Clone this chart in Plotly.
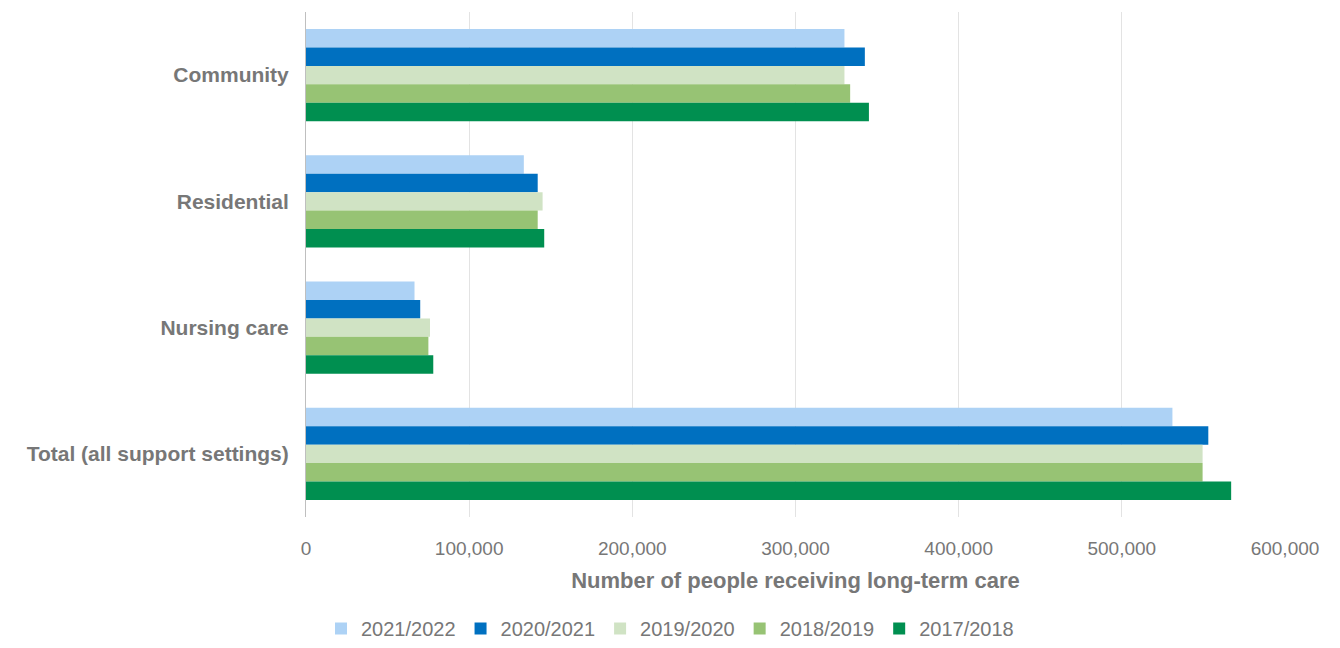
import plotly.graph_objects as go

categories = ["Community", "Residential", "Nursing care", "Total (all support settings)"]
years = ["2021/2022", "2020/2021", "2019/2020", "2018/2019", "2017/2018"]
v_2021_22 = [330000, 133500, 66500, 531000]
v_2020_21 = [342500, 142000, 70000, 553000]
v_2019_20 = [330000, 145000, 76000, 549500]
v_2018_19 = [333500, 142000, 75000, 549500]
v_2017_18 = [345000, 146000, 78000, 567000]
series = [v_2021_22, v_2020_21, v_2019_20, v_2018_19, v_2017_18]
colors = ["#ADD2F5", "#0070C0", "#D0E3C4", "#97C374", "#008F50"]
tick_vals = [0, 100000, 200000, 300000, 400000, 500000, 600000]

font_family = "Liberation Sans, Arial, sans-serif"
grey = "#777777"

fig = go.Figure()
for name, vals, col in zip(years, series, colors):
    fig.add_trace(go.Bar(
        y=categories, x=vals, name=name, orientation="h",
        marker=dict(color=col, line=dict(width=0)),
    ))

fig.update_layout(
    barmode="group",
    bargap=0.27,
    bargroupgap=0,
    width=1340, height=648,
    margin=dict(l=306, r=55, t=12, b=131, autoexpand=False),
    plot_bgcolor="white", paper_bgcolor="white",
    font=dict(family=font_family, color=grey),
    legend=dict(
        orientation="h", xref="container", x=0.5, xanchor="center",
        yref="container", y=0.0, yanchor="bottom",
        font=dict(size=20, color=grey), traceorder="normal",
    ),
    xaxis=dict(
        range=[0, 600000], tickvals=tick_vals, tickformat=",d",
        showgrid=True, gridcolor="#E3E3E3", gridwidth=1,
        zeroline=False, showline=False,
        tickfont=dict(size=19, color=grey), ticklabelstandoff=18,
        title=dict(text="<b>Number of people receiving long-term care</b>",
                   font=dict(size=22, color=grey), standoff=14),
        ticks="", ticklen=0,
    ),
    yaxis=dict(
        autorange="reversed", showline=True, linecolor="#BFBFBF", linewidth=1,
        tickfont=dict(size=21, color=grey),
        ticks="", ticklabelstandoff=12,
        tickvals=categories,
        ticktext=[f"<b>{c}</b>" for c in categories],
    ),
)

fig.write_html("out.html")
